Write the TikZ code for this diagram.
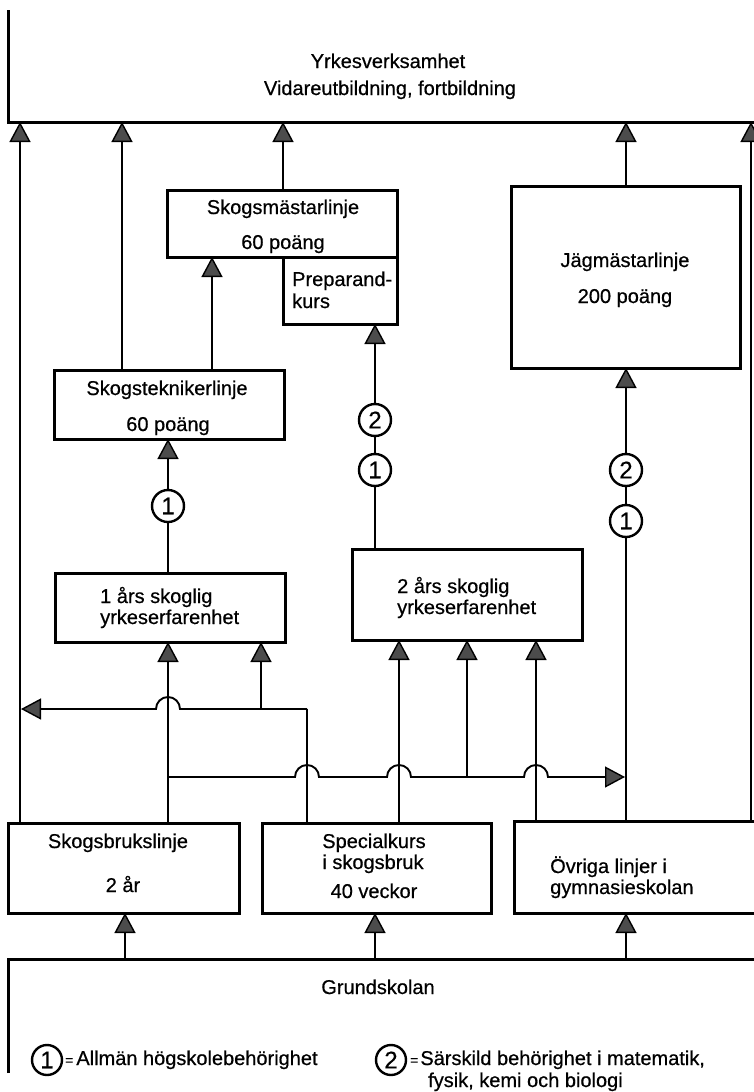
\documentclass[tikz,border=0pt]{standalone}
\usepackage{fontspec}
\setmainfont{Liberation Sans}
\newfontfamily\heavysans[FakeBold=0.6]{Liberation Sans}
\usetikzlibrary{arrows.meta}
\begin{document}
\begin{tikzpicture}[x=1pt,y=-1pt,
  box/.style={draw,line width=3pt,inner sep=0pt,outer sep=0pt,anchor=north west},
  frame/.style={inner sep=0pt,outer sep=0pt,anchor=north west},
  frameline/.style={line width=3pt},
  lbl/.style={inner sep=0pt,font=\heavysans\fontsize{20}{21}\selectfont},
  main/.style={line width=2.8pt},
  thinl/.style={line width=1.9pt},
  tri/.style={-{Triangle[width=21pt,length=20pt,fill=black!70,line width=1.4pt]}},
  num/.style={circle,draw,line width=2.4pt,fill=white,minimum size=32pt,inner sep=0pt,font=\heavysans\fontsize{24}{24}\selectfont},
  lnum/.style={num,minimum size=30pt}
]
\useasboundingbox (0,0) rectangle (754,1092);
\fill[white] (0,0) rectangle (754,1092);

% column coordinates
\coordinate (X20) at (20,0);
\coordinate (X122) at (122,0);
\coordinate (X125) at (125,0);
\coordinate (X168) at (168,0);
\coordinate (X212) at (212,0);
\coordinate (X261) at (261,0);
\coordinate (X283) at (283,0);
\coordinate (X307) at (307,0);
\coordinate (X375) at (375,0);
\coordinate (X399) at (399,0);
\coordinate (X467) at (467,0);
\coordinate (X536) at (536,0);
\coordinate (X626) at (626,0);
\coordinate (X751) at (751,0);

% frames
\node[frame,minimum width=750pt,minimum height=112pt] (yrk) at (8,10) {};
\draw[frameline] (yrk.north west) -- (yrk.south west) -- (yrk.south east);
\node[frame,minimum width=750pt,minimum height=114pt] (grund) at (8,959) {};
\draw[frameline] (grund.south west) -- (grund.north west) -- (grund.north east);

% boxes
\node[box,minimum width=230pt,minimum height=67pt] (sml) at (167,190) {};
\node[box,minimum width=114pt,minimum height=67pt] (prep) at (283,257) {};
\node[box,minimum width=230pt,minimum height=69pt] (stl) at (54,370) {};
\node[box,minimum width=229pt,minimum height=182pt] (jag) at (511,186) {};
\node[box,minimum width=230pt,minimum height=69pt] (ett) at (55,573) {};
\node[box,minimum width=230pt,minimum height=91pt] (tva) at (352,549) {};
\node[box,minimum width=231pt,minimum height=90pt] (skbr) at (8,823) {};
\node[box,minimum width=229pt,minimum height=90pt] (spec) at (262,823) {};
\node[frame,minimum width=250pt,minimum height=92pt] (ovr) at (514,821) {};
\draw[frameline] (ovr.north east) -- (ovr.north west) -- (ovr.south west) -- (ovr.south east);

% circled marks
\node[num] (c2a) at (375,420) {2};
\node[num] (c1a) at (375,470) {1};
\node[num] (c1b) at (168,506) {1};
\node[num] (c2c) at (626,470) {2};
\node[num] (c1c) at (626,521) {1};

% junctions and bump points
\coordinate (J307) at (307,709);
\coordinate (J261) at (261,709);
\coordinate (B709a) at (180,709);
\coordinate (L709) at (21,709);
\coordinate (J168) at (168,777);
\coordinate (J467) at (467,777);
\coordinate (B777a) at (295,777);
\coordinate (B777b) at (387,777);
\coordinate (B777c) at (524,777);
\coordinate (R777) at (625,777);

% arrows into Yrkesverksamhet
\draw[main,tri] (skbr.north -| X20) -- (yrk.south -| X20);
\draw[main,tri] (stl.north -| X122) -- (yrk.south -| X122);
\draw[main,tri] (sml.north -| X283) -- (yrk.south -| X283);
\draw[main,tri] (jag.north -| X626) -- (yrk.south -| X626);
\draw[main,tri] (ovr.north -| X751) -- (yrk.south -| X751);

% Skogstekniker -> Skogsmastare
\draw[thinl,tri] (stl.north -| X212) -- (sml.south -| X212);

% 2 ars -> Preparandkurs
\draw[thinl] (tva.north -| X375) -- (c1a.south);
\draw[thinl] (c1a.north) -- (c2a.south);
\draw[thinl,tri] (c2a.north) -- (prep.south -| X375);

% 1 ars -> Skogstekniker
\draw[thinl] (ett.north -| X168) -- (c1b.south);
\draw[thinl,tri] (c1b.north) -- (stl.south -| X168);

% Ovriga -> Jagmastare
\draw[main] (ovr.north -| X626) -- (c1c.south);
\draw[main] (c1c.north) -- (c2c.south);
\draw[main,tri] (c2c.north) -- (jag.south -| X626);

% Skogsbrukslinje -> 1 ars
\draw[main,tri] (skbr.north -| X168) -- (ett.south -| X168);

% Specialkurs -> left line and 1 ars
\draw[thinl] (spec.north -| X307) -- (J307);
\draw[thinl,tri] (J307) -- (B709a) arc[start angle=0,end angle=180,radius=12pt] -- (L709);
\draw[thinl,tri] (J261) -- (ett.south -| X261);

% Skogsbrukslinje branch -> right
\draw[thinl,tri] (J168) -- (B777a) arc[start angle=180,end angle=0,radius=12pt]
  -- (B777b) arc[start angle=180,end angle=0,radius=12pt]
  -- (B777c) arc[start angle=180,end angle=0,radius=12pt] -- (R777);
\draw[thinl,tri] (J467) -- (tva.south -| X467);

% Specialkurs -> 2 ars ; Ovriga -> 2 ars
\draw[thinl,tri] (spec.north -| X399) -- (tva.south -| X399);
\draw[main,tri] (ovr.north -| X536) -- (tva.south -| X536);

% Grundskolan -> gymnasium
\draw[main,tri] (grund.north -| X125) -- (skbr.south -| X125);
\draw[main,tri] (grund.north -| X375) -- (spec.south -| X375);
\draw[main,tri] (grund.north -| X626) -- (ovr.south -| X626);

% texts
\node[lbl,anchor=base] (t_yrk) at (388,68) {Yrkesverksamhet};
\node[lbl,anchor=base] (t_vid) at (390,95) {Vidareutbildning, fortbildning};
\node[lbl,anchor=base] (t_sml1) at (283,214) {Skogsmästarlinje};
\node[lbl,anchor=base] (t_sml2) at (283,249) {60 poäng};
\node[lbl,anchor=base west] (t_prep1) at (292,286) {Preparand-};
\node[lbl,anchor=base west] (t_prep2) at (292,308) {kurs};
\node[lbl,anchor=base] (t_stl1) at (167,395) {Skogsteknikerlinje};
\node[lbl,anchor=base] (t_stl2) at (168,431) {60 poäng};
\node[lbl,anchor=base] (t_jag1) at (625,267) {Jägmästarlinje};
\node[lbl,anchor=base] (t_jag2) at (625,303) {200 poäng};
\node[lbl,anchor=base west] (t_ett1) at (100,603) {1 års skoglig};
\node[lbl,anchor=base west] (t_ett2) at (100,624) {yrkeserfarenhet};
\node[lbl,anchor=base west] (t_tva1) at (397,593) {2 års skoglig};
\node[lbl,anchor=base west] (t_tva2) at (397,614) {yrkeserfarenhet};
\node[lbl,anchor=base] (t_sb1) at (118,848) {Skogsbrukslinje};
\node[lbl,anchor=base] (t_sb2) at (123,892) {2 år};
\node[lbl,anchor=base] (t_sp1) at (374,848) {Specialkurs};
\node[lbl,anchor=base] (t_sp2) at (373,869) {i skogsbruk};
\node[lbl,anchor=base] (t_sp3) at (374,898) {40 veckor};
\node[lbl,anchor=base west] (t_ov1) at (550,873) {Övriga linjer i};
\node[lbl,anchor=base west] (t_ov2) at (550,894) {gymnasieskolan};
\node[lbl,anchor=base] (t_gr) at (378,994) {Grundskolan};

% legend
\node[lnum] (l1) at (47,1060) {1};
\node[lbl,anchor=base west] (leg1) at (65,1065) {{\fontsize{14}{14}\selectfont=}\hspace{3pt}Allmän högskolebehörighet};
\node[lnum] (l2) at (391,1060) {2};
\node[lbl,anchor=base west] (leg2) at (410,1065) {{\fontsize{14}{14}\selectfont=}\hspace{2pt}Särskild behörighet i matematik,};
\node[lbl,anchor=base west] (leg3) at (428,1087) {fysik, kemi och biologi};
\end{tikzpicture}
\end{document}
